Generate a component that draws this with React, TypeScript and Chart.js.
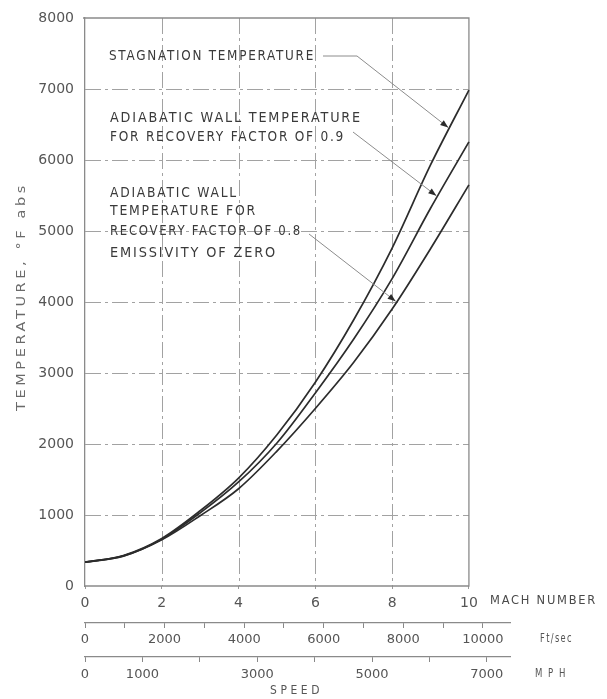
import React, { useEffect, useRef } from 'react';
import { Chart, registerables } from 'chart.js';

Chart.register(...registerables);

// ---- data ----
const MACH = [0, 1, 2, 3, 4, 5, 6, 7, 8, 9, 10];
const STAGNATION = [335, 430, 670, 1060, 1520, 2130, 2870, 3750, 4760, 5930, 6985];
const RECOVERY_09 = [335, 425, 660, 1030, 1465, 2015, 2720, 3480, 4330, 5320, 6255];
const RECOVERY_08 = [335, 420, 650, 990, 1370, 1900, 2500, 3150, 3900, 4750, 5650];

const Y_TICKS = [0, 1000, 2000, 3000, 4000, 5000, 6000, 7000, 8000];
const MACH_TICKS = [0, 2, 4, 6, 8, 10];
const FT_TICKS = [0, 1000, 2000, 3000, 4000, 5000, 6000, 7000, 8000, 9000, 10000];
const FT_LABELS = [0, 2000, 4000, 6000, 8000, 10000];
const MPH_TICKS = [0, 1000, 2000, 3000, 4000, 5000, 6000, 7000];
const MPH_LABELS = [0, 1000, 3000, 5000, 7000];

const Y_TITLE = 'TEMPERATURE, °F abs';
const MACH_TITLE = 'MACH NUMBER';
const FT_TITLE = 'Ft/sec';
const MPH_TITLE = 'MPH';
const SPEED_TITLE = 'SPEED';

const LABEL_STAG = ['STAGNATION TEMPERATURE'];
const LABEL_09 = ['ADIABATIC WALL TEMPERATURE', 'FOR RECOVERY FACTOR OF 0.9'];
const LABEL_08 = ['ADIABATIC WALL', 'TEMPERATURE FOR', 'RECOVERY FACTOR OF 0.8', 'EMISSIVITY OF ZERO'];

// axis extents (the secondary speed scales run a little beyond Mach 10)
const MACH_MAX = 11.07;
const FT_MAX = 10680;
const MPH_MAX = 7404;

const FONT = '"DejaVu Sans", "Liberation Sans", sans-serif';
const GRID = '#a2a2a2';
const GRID_DASH = [16, 4, 3, 4];

function interp(series: number[], m: number) {
  const i = Math.min(Math.floor(m), MACH.length - 2);
  const t = m - MACH[i];
  return series[i] + (series[i + 1] - series[i]) * t;
}

function fitText(
  ctx: CanvasRenderingContext2D,
  text: string,
  x: number,
  y: number,
  w: number,
  size: number,
  color: string,
  spacing: number
) {
  ctx.save();
  ctx.font = `${size}px ${FONT}`;
  (ctx as any).letterSpacing = spacing + 'px';
  ctx.fillStyle = color;
  ctx.textBaseline = 'middle';
  ctx.textAlign = 'left';
  const m = ctx.measureText(text).width;
  const s = m > 0 ? w / m : 1;
  ctx.translate(x, y);
  ctx.scale(s, 1);
  ctx.fillText(text, 0, 0);
  ctx.restore();
}

function arrow(ctx: CanvasRenderingContext2D, pts: [number, number][]) {
  ctx.save();
  ctx.strokeStyle = '#8c8c8c';
  ctx.lineWidth = 1;
  ctx.beginPath();
  ctx.moveTo(pts[0][0], pts[0][1]);
  for (let i = 1; i < pts.length; i++) ctx.lineTo(pts[i][0], pts[i][1]);
  ctx.stroke();
  const [ax, ay] = pts[pts.length - 2];
  const [bx, by] = pts[pts.length - 1];
  const ang = Math.atan2(by - ay, bx - ax);
  const L = 8, W = 3;
  ctx.fillStyle = '#2a2a2a';
  ctx.beginPath();
  ctx.moveTo(bx, by);
  ctx.lineTo(bx - L * Math.cos(ang) + W * Math.sin(ang), by - L * Math.sin(ang) - W * Math.cos(ang));
  ctx.lineTo(bx - L * Math.cos(ang) - W * Math.sin(ang), by - L * Math.sin(ang) + W * Math.cos(ang));
  ctx.closePath();
  ctx.fill();
  ctx.restore();
}

const decor = {
  id: 'decor',
  beforeDatasetsDraw(chart: any) {
    const { ctx, scales } = chart;
    const x = scales.x, y = scales.y;
    const x0 = x.getPixelForValue(0), x1 = x.getPixelForValue(10);
    const yTop = y.getPixelForValue(8000), yBot = y.getPixelForValue(0);
    ctx.save();
    ctx.strokeStyle = GRID;
    ctx.lineWidth = 1;
    ctx.setLineDash(GRID_DASH);
    // horizontal dash-dot grid
    Y_TICKS.filter((v) => v > 0 && v < 8000).forEach((v) => {
      const py = Math.round(y.getPixelForValue(v)) + 0.5;
      ctx.beginPath();
      ctx.moveTo(x0, py);
      ctx.lineTo(x1, py);
      ctx.stroke();
    });
    // vertical dash-dot grid
    MACH_TICKS.filter((v) => v > 0 && v < 10).forEach((v) => {
      const px = Math.round(x.getPixelForValue(v)) + 0.5;
      ctx.beginPath();
      ctx.moveTo(px, yTop);
      ctx.lineTo(px, yBot);
      ctx.stroke();
    });
    ctx.restore();
    // frame: top, right and the Mach base line
    ctx.save();
    ctx.strokeStyle = '#8a8a8a';
    ctx.lineWidth = 1.3;
    ctx.beginPath();
    ctx.moveTo(x0 - 2, yTop);
    ctx.lineTo(x1, yTop);
    ctx.lineTo(x1, yBot);
    ctx.lineTo(x0, yBot);
    ctx.stroke();
    ctx.restore();
  },
  afterDatasetsDraw(chart: any) {
    const { ctx, scales } = chart;
    const x = scales.x, y = scales.y;
    const txt = '#3a3a3a';

    // annotations
    fitText(ctx, LABEL_STAG[0], 109, 56, 206, 14, txt, 2);
    fitText(ctx, LABEL_09[0], 110, 118, 252, 14, txt, 2);
    fitText(ctx, LABEL_09[1], 110, 137, 235, 14, txt, 2);
    fitText(ctx, LABEL_08[0], 110, 193, 128, 14, txt, 2);
    fitText(ctx, LABEL_08[1], 110, 211, 147, 14, txt, 2);
    fitText(ctx, LABEL_08[2], 110, 231, 192, 14, txt, 2);
    fitText(ctx, LABEL_08[3], 110, 253, 167, 14, txt, 2);

    const tip = (series: number[], m: number): [number, number] => [
      x.getPixelForValue(m) - 1.5,
      y.getPixelForValue(interp(series, m)),
    ];
    arrow(ctx, [[323, 56], [357, 56], tip(STAGNATION, 9.5)]);
    arrow(ctx, [[353, 132], tip(RECOVERY_09, 9.19)]);
    arrow(ctx, [[309, 234], tip(RECOVERY_08, 8.13)]);

    // axis titles
    ctx.save();
    ctx.translate(22, 297);
    ctx.rotate(-Math.PI / 2);
    fitText(ctx, Y_TITLE, -114, 0, 229, 12, '#6a6a6a', 3);
    ctx.restore();
    fitText(ctx, MACH_TITLE, 490, 601, 107, 13, '#4a4a4a', 2);
    fitText(ctx, FT_TITLE, 540, 639, 33, 12, '#555', 2);
    fitText(ctx, MPH_TITLE, 535, 674, 36, 12, '#555', 8);
    fitText(ctx, SPEED_TITLE, 270, 691, 53, 12, '#555', 4);
  },
};

export default function App() {
  const ref = useRef<HTMLCanvasElement | null>(null);

  useEffect(() => {
    if (!ref.current) return;
    const line = (data: number[]) => ({
      data: MACH.map((m, i) => ({ x: m, y: data[i] })),
      borderColor: '#2c2c2c',
      borderWidth: 1.7,
      pointRadius: 0,
      fill: false,
      tension: 0.4,
      cubicInterpolationMode: 'monotone' as const,
      xAxisID: 'x',
      yAxisID: 'y',
    });
    const tickFont = { family: FONT, size: 14 };
    const smallFont = { family: FONT, size: 13 };
    const chart = new Chart(ref.current, {
      type: 'line',
      data: {
        datasets: [
          { label: 'Stagnation temperature', ...line(STAGNATION) },
          { label: 'Adiabatic wall, recovery 0.9', ...line(RECOVERY_09) },
          { label: 'Adiabatic wall, recovery 0.8', ...line(RECOVERY_08) },
        ],
      },
      options: {
        responsive: false,
        animation: false,
        layout: { padding: { top: 18, right: 97, left: 0, bottom: 0 } },
        plugins: { legend: { display: false }, tooltip: { enabled: false }, title: { display: false } },
        scales: {
          x: {
            type: 'linear',
            position: 'bottom',
            weight: 0,
            min: 0,
            max: MACH_MAX,
            afterBuildTicks: (s: any) => {
              s.ticks = MACH_TICKS.map((v) => ({ value: v }));
            },
            afterFit: (s: any) => {
              s.height = 37;
            },
            grid: {
              drawOnChartArea: false,
              tickLength: 3,
              tickColor: '#9a9a9a',
            },
            border: { display: false },
            ticks: {
              font: tickFont,
              color: '#555',
              padding: 6,
              autoSkip: false,
              maxRotation: 0,
              minRotation: 0,
              callback: (v: any) => String(v),
            },
          },
          ft: {
            type: 'linear',
            position: 'bottom',
            weight: 1,
            min: 0,
            max: FT_MAX,
            afterBuildTicks: (s: any) => {
              s.ticks = FT_TICKS.map((v) => ({ value: v }));
            },
            afterFit: (s: any) => {
              s.height = 34;
            },
            grid: { drawOnChartArea: false, tickLength: 5, tickColor: '#888', lineWidth: 1 },
            border: { display: true, color: '#8a8a8a', width: 1.2 },
            ticks: {
              font: smallFont,
              color: '#555',
              padding: 4,
              autoSkip: false,
              maxRotation: 0,
              minRotation: 0,
              callback: (v: any) => (FT_LABELS.includes(Number(v)) ? String(v) : ''),
            },
          },
          mph: {
            type: 'linear',
            position: 'bottom',
            weight: 2,
            min: 0,
            max: MPH_MAX,
            afterBuildTicks: (s: any) => {
              s.ticks = MPH_TICKS.map((v) => ({ value: v }));
            },
            afterFit: (s: any) => {
              s.height = 42;
            },
            grid: { drawOnChartArea: false, tickLength: 5, tickColor: '#888', lineWidth: 1 },
            border: { display: true, color: '#8a8a8a', width: 1.2 },
            ticks: {
              font: smallFont,
              color: '#555',
              padding: 5,
              autoSkip: false,
              maxRotation: 0,
              minRotation: 0,
              callback: (v: any) => (MPH_LABELS.includes(Number(v)) ? String(v) : ''),
            },
          },
          y: {
            type: 'linear',
            position: 'left',
            min: 0,
            max: 8000,
            afterBuildTicks: (s: any) => {
              s.ticks = Y_TICKS.map((v) => ({ value: v }));
            },
            afterFit: (s: any) => {
              s.width = 85;
            },
            grid: { display: false },
            border: { display: true, color: '#8a8a8a', width: 1.3 },
            ticks: {
              font: tickFont,
              color: '#555',
              padding: 3,
              callback: (v: any) => String(v),
            },
          },
        },
      },
      plugins: [decor],
    } as any);
    return () => chart.destroy();
  }, []);

  return (
    <div style={{ position: 'absolute', left: 0, top: 0, width: 607, height: 699, background: '#fff' }}>
      <canvas ref={ref} width={607} height={699} style={{ display: 'block' }} />
    </div>
  );
}
